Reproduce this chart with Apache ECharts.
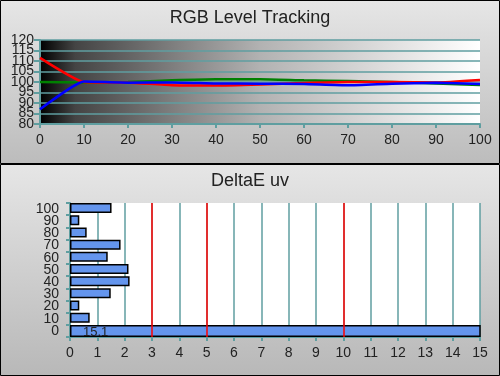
<!DOCTYPE html>
<html>
<head>
<meta charset="utf-8">
<script src="https://cdn.jsdelivr.net/npm/echarts@6/dist/echarts.min.js"></script>
<style>
  html, body { margin: 0; padding: 0; }
  #main { width: 500px; height: 376px; }
</style>
</head>
<body>
<div id="main"></div>
<script>
// RGB level tracking (top)
const levels = [0, 10, 20, 30, 40, 50, 60, 70, 80, 90, 100];
const redVals = [111.5, 100, 99.7, 98.5, 98.3, 98.8, 99.5, 100, 100, 99.8, 101];
const greenVals = [100, 99.8, 100, 100.8, 101.3, 101.3, 100.8, 100.5, 100, 99.3, 98.6];
const blueVals = [87, 100.2, 99.7, 99.8, 99.3, 99.2, 99, 98.4, 99.2, 99.6, 99];

// DeltaE uv (bottom)
const deCats = ['0', '10', '20', '30', '40', '50', '60', '70', '80', '90', '100'];
const deVals = [15.1, 0.72, 0.34, 1.49, 2.18, 2.14, 1.38, 1.85, 0.61, 0.34, 1.52];
const deLimits = [3, 5, 10];

const teal = '#5f9ea0';
const txt = '#222';
const font = 'Liberation Sans';

const chart = echarts.init(document.getElementById('main'));

const lineSeries = (name, vals, color) => ({
  name: name,
  type: 'line',
  xAxisIndex: 0,
  yAxisIndex: 0,
  data: levels.map((l, i) => [l, vals[i]]),
  smooth: 0.15,
  symbol: 'none',
  lineStyle: { color: color, width: 2.5 },
  itemStyle: { color: color }
});

const yLabel = { color: txt, fontSize: 14, margin: 6, fontFamily: font };

chart.setOption({
  animation: false,
  textStyle: { fontFamily: font },
  graphic: [
    {
      type: 'rect', z: -10,
      shape: { x: 0.5, y: 0.5, width: 499, height: 163 },
      style: {
        fill: new echarts.graphic.LinearGradient(0, 0, 0, 1, [
          { offset: 0, color: '#e6e6e6' }, { offset: 1, color: '#bcbcbc' }
        ]),
        stroke: '#000', lineWidth: 1
      }
    },
    {
      type: 'rect', z: -10,
      shape: { x: 0.5, y: 164.5, width: 499, height: 211 },
      style: {
        fill: new echarts.graphic.LinearGradient(0, 0, 0, 1, [
          { offset: 0, color: '#e6e6e6' }, { offset: 1, color: '#b8b8b8' }
        ]),
        stroke: '#000', lineWidth: 1
      }
    },
    {
      type: 'rect', z: -9,
      shape: { x: 40, y: 40, width: 440, height: 84 },
      style: {
        fill: new echarts.graphic.LinearGradient(0, 0, 1, 0, [
          { offset: 0, color: '#000000' },
          { offset: 0.08, color: '#444444' },
          { offset: 0.5, color: '#b2b2b2' },
          { offset: 1, color: '#ffffff' }
        ])
      }
    },
    {
      type: 'rect', z: -9,
      shape: { x: 70, y: 203, width: 410, height: 134 },
      style: { fill: '#ffffff' }
    }
  ],
  title: [
    {
      text: 'RGB Level Tracking', left: 'center', top: 4,
      textStyle: { fontFamily: font, fontSize: 18, fontWeight: 'normal', color: txt }
    },
    {
      text: 'DeltaE uv', left: 'center', top: 167,
      textStyle: { fontFamily: font, fontSize: 18, fontWeight: 'normal', color: txt }
    }
  ],
  grid: [
    { left: 40, top: 40, width: 440, height: 84 },
    { left: 70, top: 203, width: 410, height: 134 }
  ],
  xAxis: [
    {
      type: 'value', gridIndex: 0, min: 0, max: 100, interval: 10,
      axisLine: { show: true, lineStyle: { color: teal, width: 2 } },
      axisTick: { show: true, length: 4, lineStyle: { color: teal, width: 2 } },
      splitLine: { show: false },
      axisLabel: { color: txt, fontSize: 14, margin: 9, fontFamily: font }
    },
    {
      type: 'value', gridIndex: 1, min: 0, max: 15, interval: 1,
      axisLine: { show: true, lineStyle: { color: teal, width: 2 } },
      axisTick: { show: true, length: 4, lineStyle: { color: teal, width: 2 } },
      splitLine: { show: true, lineStyle: { color: teal, width: 1.5 } },
      axisLabel: { color: txt, fontSize: 14, margin: 9, fontFamily: font }
    }
  ],
  yAxis: [
    {
      // inner labels 85..115 (min/max shown by the extra axis below)
      type: 'value', gridIndex: 0, position: 'left', min: 80, max: 120, interval: 5,
      axisLine: { show: true, lineStyle: { color: teal, width: 2 } },
      axisTick: { show: true, length: 6, lineStyle: { color: teal, width: 2 } },
      splitLine: { show: true, lineStyle: { color: teal, width: 1.5 } },
      axisLabel: Object.assign({ showMinLabel: false, showMaxLabel: false }, yLabel)
    },
    {
      type: 'category', gridIndex: 1, data: deCats,
      axisLine: { show: true, lineStyle: { color: teal, width: 2 } },
      axisTick: { show: true, length: 4, lineStyle: { color: teal, width: 2 } },
      splitLine: { show: false },
      axisLabel: {
        color: txt, fontSize: 14, margin: 11, fontFamily: font,
        interval: 0, hideOverlap: false
      }
    },
    {
      type: 'value', gridIndex: 0, position: 'left', offset: 0,
      min: 80, max: 120, interval: 40,
      axisLine: { show: false },
      axisTick: { show: true, length: 6, lineStyle: { color: teal, width: 2 } },
      splitLine: { show: false },
      axisLabel: yLabel
    }
  ],
  series: [
    lineSeries('Green', greenVals, '#008000'),
    lineSeries('Red', redVals, '#ff0000'),
    lineSeries('Blue', blueVals, '#0000ff'),
    {
      name: 'DeltaE', type: 'bar', xAxisIndex: 1, yAxisIndex: 1,
      data: deVals.map((v, i) => (i === 0 ? null : v)),
      barWidth: 10,
      itemStyle: { color: '#6495ed', borderColor: '#000', borderWidth: 1.5 },
      markLine: {
        silent: true, symbol: 'none', label: { show: false },
        lineStyle: { color: '#ff0000', width: 1.5, type: 'solid' },
        data: deLimits.map(v => ({ xAxis: v }))
      }
    },
    {
      name: 'DeltaE0', type: 'bar', xAxisIndex: 1, yAxisIndex: 1,
      data: deVals.map((v, i) => (i === 0 ? v : null)),
      barWidth: 12, barGap: '-100%',
      itemStyle: { color: '#6495ed', borderColor: '#000', borderWidth: 1.5 },
      label: {
        show: true, position: 'insideLeft', distance: 13, offset: [0, 2],
        color: txt, fontSize: 13, fontFamily: font
      }
    }
  ]
});
</script>
</body>
</html>
